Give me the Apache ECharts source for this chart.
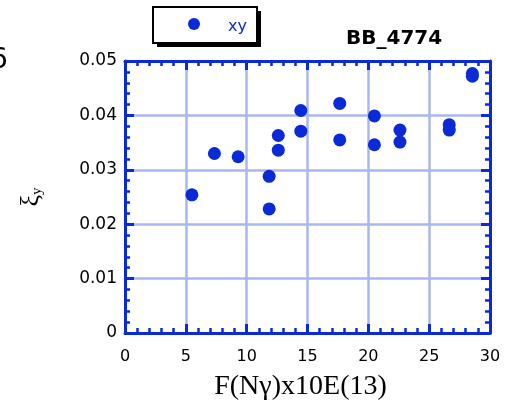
<!DOCTYPE html>
<html>
<head>
<meta charset="utf-8">
<script src="https://cdn.jsdelivr.net/npm/echarts@6/dist/echarts.min.js"></script>
<style>html,body{margin:0;padding:0;background:#fff}#c{width:505px;height:406px}</style>
</head>
<body>
<div id="c"></div>
<script>
var xValues = [5.5, 7.35, 9.3, 11.85, 11.85, 12.6, 12.6, 14.45, 14.45, 17.65, 17.65, 20.5, 20.5, 22.6, 22.6, 26.65, 26.65, 28.55, 28.55];
var yValues = [0.0254, 0.0330, 0.0324, 0.0288, 0.0228, 0.0363, 0.0336, 0.0409, 0.0371, 0.0422, 0.0355, 0.0399, 0.0346, 0.0373, 0.0351, 0.0383, 0.0373, 0.0477, 0.0472];
var seriesName = 'xy';
var titleText = 'BB_4774';
var xName = 'F(N\u03b3)x10E(13)';

var blue = '#0a2ad8';
var gridBlue = '#a9b7f0';
var points = xValues.map(function (x, i) { return [x, yValues[i]]; });

var chart = echarts.init(document.getElementById('c'));
var axisCommon = {
  type: 'value',
  axisLine: { show: true, onZero: false, lineStyle: { color: blue, width: 3 } },
  axisTick: { show: true, inside: true, length: 9, lineStyle: { color: blue, width: 3 } },
  minorTick: { show: true, splitNumber: 5, length: 5, lineStyle: { color: blue, width: 2.5 } },
  axisLabel: { color: '#000', fontFamily: 'DejaVu Sans', fontSize: 16 }
};
chart.setOption({
  animation: false,
  backgroundColor: '#fff',
  title: {
    text: titleText, left: 341, top: 24,
    textStyle: { fontFamily: 'DejaVu Sans', fontWeight: 'bold', fontSize: 20, color: '#000' }
  },
  legend: {
    data: [seriesName], left: 153, top: 7,
    padding: [11, 10, 11, 35],
    itemWidth: 12, itemHeight: 12, icon: 'circle',
    formatter: function (n) { return '{t|' + n + '}'; },
    textStyle: {
      color: blue, fontFamily: 'DejaVu Sans', fontSize: 16,
      rich: { t: { color: blue, fontFamily: 'DejaVu Sans', fontSize: 16, padding: [5, 0, 0, 23] } }
    }
  },
  grid: { left: 125, right: 15, top: 61, bottom: 73 },
  xAxis: [
    Object.assign({}, axisCommon, {
      min: 0, max: 30, interval: 5, position: 'bottom',
      axisLabel: Object.assign({}, axisCommon.axisLabel, { margin: 16 }),
      splitLine: { show: true, lineStyle: { color: gridBlue, width: 2.5 } },
      name: xName, nameLocation: 'middle', nameGap: 40,
      nameTextStyle: { fontFamily: 'Liberation Serif', fontSize: 28, color: '#000', padding: [0, 14, 0, 0] }
    }),
    Object.assign({}, axisCommon, {
      min: 0, max: 30, interval: 5, position: 'top',
      axisLabel: { show: false }, splitLine: { show: false }
    })
  ],
  yAxis: [
    Object.assign({}, axisCommon, {
      min: 0, max: 0.05, interval: 0.01, position: 'left',
      axisLabel: Object.assign({}, axisCommon.axisLabel, { margin: 8, fontSize: 17 }),
      splitLine: { show: true, lineStyle: { color: gridBlue, width: 2.5 } },
      name: '{a|\u03be}{b|y}', nameLocation: 'middle', nameGap: 80, nameRotate: 90,
      nameTextStyle: {
        rich: {
          a: { fontFamily: 'Liberation Serif', fontSize: 26, color: '#000' },
          b: { fontFamily: 'Liberation Serif', fontSize: 15, color: '#000', padding: [12, 0, 0, 0] }
        }
      }
    }),
    Object.assign({}, axisCommon, {
      min: 0, max: 0.05, interval: 0.01, position: 'right',
      axisLabel: { show: false }, splitLine: { show: false }
    })
  ],
  graphic: [
    { type: 'rect', z: 0, shape: { x: 157, y: 11, width: 104, height: 36 }, style: { fill: '#000' } },
    { type: 'rect', z: 1, shape: { x: 153, y: 7, width: 104, height: 36 }, style: { fill: '#fff', stroke: '#000', lineWidth: 2 } },
    { type: 'text', left: -10, top: 47, style: { text: '6', font: '28px "DejaVu Sans"', fill: '#000' } }
  ],
  series: [{
    name: seriesName, type: 'scatter', xAxisIndex: 0, yAxisIndex: 0,
    symbol: 'circle', symbolSize: 13,
    itemStyle: { color: blue, opacity: 1 },
    data: points
  }]
});
</script>
</body>
</html>
